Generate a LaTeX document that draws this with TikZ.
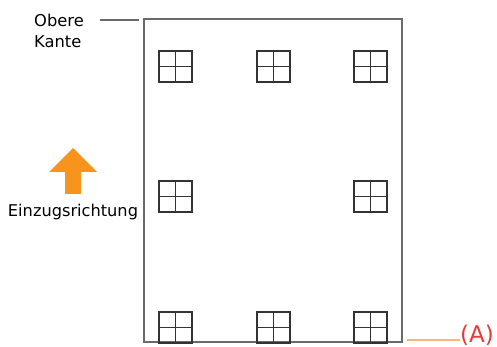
\documentclass[tikz,border=0pt]{standalone}
\usepackage{fontspec}
\setmainfont{DejaVu Sans}
\definecolor{arroworange}{HTML}{F7941D}
\definecolor{lightorange}{HTML}{F9B57A}
\definecolor{labelred}{HTML}{E63B3B}
\definecolor{framegray}{HTML}{6A6A6A}
\begin{document}
\begin{tikzpicture}[x=1pt,y=-1pt,
  frame/.style={draw=framegray,line width=1.8pt},
  gridbox/.style={draw=black!80,line width=1.4pt},
  lbl/.style={font=\fontsize{16.3}{21}\selectfont,inner sep=0pt,anchor=base west}]
\useasboundingbox (0,0) rectangle (497,347);
% page
\draw[frame] (144,19) rectangle (402,342);
% grids
\foreach \x/\y in {159/51,257/51,354/51,159/181,354/181,159/312,257/312,354/312}{
  \draw[gridbox] (\x,\y) rectangle ++(33,31);
  \draw[gridbox] (\x+16.5,\y) -- ++(0,31);
  \draw[gridbox] (\x,\y+15.5) -- ++(33,0);
}
% Obere Kante
\node[lbl] (ob) at (34,27) {Obere};
\node[lbl] (ka) at (34,48) {Kante};
\coordinate (obl) at (100,20);
\coordinate (obr) at (139,20);
\draw[draw=framegray,line width=1.5pt] (obl) -- (obr);
% arrow
\fill[arroworange] (49,172) -- (73,148) -- (97,172) -- (81,172) -- (81,194) -- (65,194) -- (65,172) -- cycle;
\node[font=\fontsize{16.2}{18}\selectfont,inner sep=0pt,anchor=base] (ez) at (73,216) {Einzugsrichtung};
% (A)
\node[font=\fontsize{23}{25}\selectfont,text=labelred,inner sep=0pt,anchor=base west] (A) at (460,342) {(A)};
\coordinate (al) at (407,340);
\draw[lightorange,line width=1.2pt] (al) -- (A.west |- al);
\end{tikzpicture}
\end{document}
